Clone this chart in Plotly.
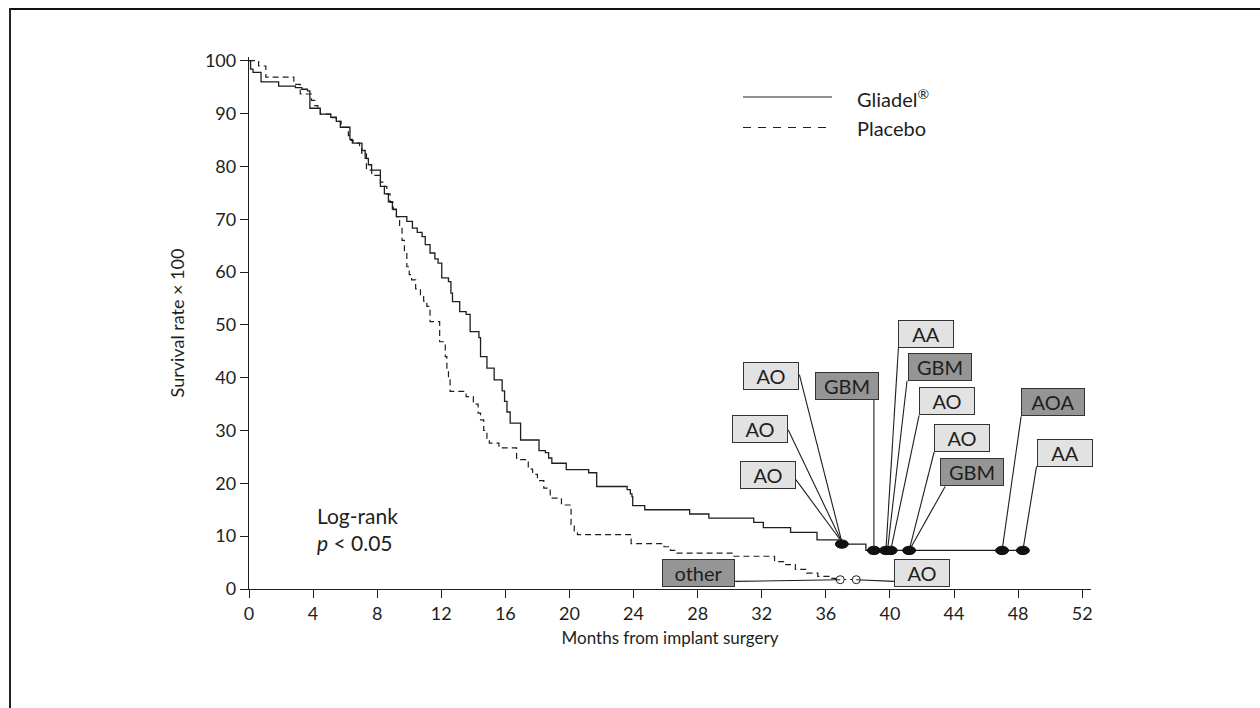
import plotly.graph_objects as go

# ---------------- data ----------------
gliadel_t = [0, 0.1, 0.25, 0.75, 1.85, 2.9, 3.3, 3.65, 3.8, 4.45, 5.1, 5.45, 5.7, 6.3, 6.45,
             7.05, 7.25, 7.45, 7.65, 8.2, 8.45, 8.7, 8.95, 9.2, 9.85, 10.2, 10.5, 10.8, 11.0,
             11.3, 11.6, 11.8, 12.03, 12.45, 12.6, 12.7, 13.15, 13.55, 13.8, 14.35, 14.45,
             14.85, 15.3, 15.8, 15.95, 16.1, 16.3, 16.95, 18.1, 18.5, 18.7, 18.9, 19.8, 21.2,
             21.7, 23.6, 23.8, 23.9, 23.95, 24.7, 27.5, 28.7, 31.5, 32.1, 33.8, 35.45, 36.8,
             38.5, 48.3]
gliadel_s = [100, 98.4, 97.8, 96.0, 95.2, 94.9, 94.6, 94.3, 91.0, 89.9, 89.3, 88.5, 87.4, 85.1, 84.4,
             83.0, 81.5, 80.3, 79.3, 76.2, 74.8, 73.3, 71.9, 70.5, 69.6, 68.3, 67.5, 66.7, 65.2,
             63.6, 62.5, 61.7, 58.9, 58.2, 56.0, 54.4, 52.5, 52.0, 48.7, 47.6, 44.0,
             41.8, 39.6, 37.5, 35.5, 33.5, 31.4, 28.2, 26.2, 25.8, 24.8, 23.8, 22.6, 22.0,
             19.4, 18.8, 18.0, 17.5, 15.8, 15.0, 14.2, 13.4, 12.6, 11.6, 10.7, 9.3, 8.5,
             7.3, 7.3]

placebo_t = [0, 0.6, 1.05, 2.8, 3.2, 3.9, 4.1, 4.3, 4.45, 5.1, 5.45, 5.75, 6.2, 6.35, 6.5, 6.9,
             7.03, 7.33, 7.66, 8.2, 8.4, 8.6, 8.8, 9.0, 9.2, 9.4, 9.55, 9.7, 9.85, 10.0, 10.15,
             10.4, 10.7, 10.9, 11.1, 11.3, 11.9, 12.25, 12.35, 12.45, 12.55, 13.55, 14.0, 14.3,
             14.45, 14.65, 14.85, 15.0, 15.6, 16.7, 17.43, 17.7, 18.0, 18.4, 18.8, 19.5, 20.1,
             20.3, 20.5, 23.85, 25.9, 26.3, 26.7, 30.15, 32.8, 33.5, 34.1, 34.8, 35.5, 36.2,
             36.6, 37.9]
placebo_s = [100, 99.0, 96.9, 95.5, 93.7, 92.5, 91.5, 91.0, 89.9, 89.2, 88.5, 87.4, 85.8, 84.9, 84.4, 83.5,
             82.5, 79.3, 78.3, 77.0, 76.2, 74.8, 73.2, 71.8, 70.5, 68.6, 66.0, 63.5, 61.0, 59.5, 58.5,
             56.8, 55.5, 54.5, 53.5, 50.6, 46.8, 44.0, 41.5, 39.6, 37.4, 36.4, 35.0, 33.3,
             32.0, 30.0, 28.5, 27.6, 26.7, 24.5, 22.7, 21.7, 20.5, 19.1, 17.2, 15.9, 12.2,
             11.0, 10.3, 8.6, 8.0, 7.3, 6.8, 6.2, 5.2, 4.6, 3.7, 3.0, 2.4, 2.0,
             1.8, 1.8]

# censored patients (filled = Gliadel, open = placebo)
gliadel_cens_t = [37.0, 39.0, 39.75, 40.05, 41.2, 47.0, 48.3]
gliadel_cens_s = [8.5, 7.3, 7.3, 7.3, 7.3, 7.3, 7.3]
placebo_cens_t = [36.9, 37.9]
placebo_cens_s = [1.76, 1.76]

# histology labels
label_text = ["AO", "AO", "AO", "GBM", "AA", "GBM", "AO", "AO", "GBM", "AOA", "AA", "other", "AO"]
label_dark = [0, 0, 0, 1, 0, 1, 0, 0, 1, 1, 0, 1, 0]
label_x = [32.58, 31.88, 32.36, 37.33, 42.28, 43.10, 43.57, 44.50, 45.11, 50.19, 50.92, 28.07, 42.00]
label_y = [40.34, 30.30, 21.50, 38.50, 48.30, 42.10, 35.55, 28.60, 22.10, 35.36, 25.80, 3.05, 3.09]
label_w = [56, 56, 56, 64, 56, 64, 56, 56, 64, 64, 56, 73, 56]
anchor_x = [34.35, 33.65, 34.13, 39.00, 40.53, 41.07, 41.82, 42.76, 43.45, 48.19, 49.15, 30.34, 40.26]
anchor_y = [40.56, 30.15, 20.69, 35.83, 45.60, 39.43, 32.86, 25.93, 19.42, 32.67, 23.20, 1.44, 1.44]
target_x = [37.0, 37.0, 37.0, 39.0, 39.75, 39.85, 40.05, 41.2, 41.2, 47.0, 48.3, 36.9, 37.9]
target_y = [8.9, 8.9, 8.9, 7.3, 7.3, 7.3, 7.3, 7.3, 7.3, 7.3, 7.3, 1.76, 1.76]

x_ticks = list(range(0, 53, 4))
y_ticks = list(range(0, 101, 10))

# ---------------- figure ----------------
FONT = "Lato"
INK = "#1e1e1e"
L, R, T, B = 249, 169, 57, 119
W, H = 1260, 708
pw, ph = W - L - R, H - T - B
XMAX, YMAX = 52.55, 100.7

def px_to_paper_x(px):
    return (px - L) / pw

def px_to_paper_y(py):
    return (H - B - py) / ph

fig = go.Figure()

fig.add_trace(go.Scatter(x=gliadel_t, y=gliadel_s, mode="lines", line_shape="hv",
                         line=dict(color=INK, width=1.3), hoverinfo="skip", showlegend=False))
fig.add_trace(go.Scatter(x=placebo_t, y=placebo_s, mode="lines", line_shape="hv",
                         line=dict(color=INK, width=1.2, dash="6px,4px"), hoverinfo="skip",
                         showlegend=False))

shapes = []
# connector lines
for ax, ay, tx, ty in zip(anchor_x, anchor_y, target_x, target_y):
    shapes.append(dict(type="line", xref="x", yref="y", x0=ax, y0=ay, x1=tx, y1=ty,
                       line=dict(color=INK, width=1.1)))
# filled ellipses for censored Gliadel patients
rx, ry = 6.5 / (pw / XMAX), 4.2 / (ph / YMAX)
for t, s in zip(gliadel_cens_t, gliadel_cens_s):
    shapes.append(dict(type="circle", xref="x", yref="y", x0=t - rx, x1=t + rx, y0=s - ry, y1=s + ry,
                       fillcolor="#111111", line=dict(color="#111111", width=1)))

# legend samples
lx0, lx1 = px_to_paper_x(743), px_to_paper_x(832)
shapes.append(dict(type="line", xref="paper", yref="paper", x0=lx0, x1=lx1,
                   y0=px_to_paper_y(97), y1=px_to_paper_y(97), line=dict(color=INK, width=1.2)))
shapes.append(dict(type="line", xref="paper", yref="paper", x0=lx0, x1=lx1,
                   y0=px_to_paper_y(127.5), y1=px_to_paper_y(127.5),
                   line=dict(color=INK, width=1.2, dash="8px,7px")))

# frame (top and left edges of the figure panel)
shapes.append(dict(type="line", xref="paper", yref="paper", x0=px_to_paper_x(9.5), x1=px_to_paper_x(1262),
                   y0=px_to_paper_y(9), y1=px_to_paper_y(9), line=dict(color="#111", width=2)))
shapes.append(dict(type="line", xref="paper", yref="paper", x0=px_to_paper_x(10), x1=px_to_paper_x(10),
                   y0=px_to_paper_y(8), y1=px_to_paper_y(712), line=dict(color="#222", width=2)))

fig.add_trace(go.Scatter(x=placebo_cens_t, y=placebo_cens_s, mode="markers",
                         marker=dict(symbol="circle", size=8, color="white",
                                     line=dict(color=INK, width=1)),
                         hoverinfo="skip", showlegend=False))

annotations = []
for txt, dk, x, y, w in zip(label_text, label_dark, label_x, label_y, label_w):
    annotations.append(dict(x=x, y=y, xref="x", yref="y", text=txt, showarrow=False,
                            xanchor="center", yanchor="middle", width=w - 2, height=26,
                            bgcolor="#959595" if dk else "#e2e2e2", bordercolor="#333",
                            borderwidth=1, borderpad=0,
                            font=dict(family=FONT, size=20, color=INK)))

annotations.append(dict(x=px_to_paper_x(855), y=px_to_paper_y(98), xref="paper", yref="paper",
                        text="Gliadel<sup>®</sup>", showarrow=False, xanchor="left", yanchor="middle",
                        font=dict(family=FONT, size=20, color=INK)))
annotations.append(dict(x=px_to_paper_x(855), y=px_to_paper_y(128), xref="paper", yref="paper",
                        text="Placebo", showarrow=False, xanchor="left", yanchor="middle",
                        font=dict(family=FONT, size=20, color=INK)))
annotations.append(dict(x=px_to_paper_x(315), y=px_to_paper_y(529), xref="paper", yref="paper",
                        text="Log-rank<br><i>p</i> < 0.05", showarrow=False, xanchor="left",
                        yanchor="middle", align="left",
                        font=dict(family=FONT, size=21, color=INK)))

fig.update_layout(
    width=W, height=H, autosize=False,
    margin=dict(l=L, r=R, t=T, b=B, pad=0),
    paper_bgcolor="white", plot_bgcolor="white",
    shapes=shapes, annotations=annotations,
    font=dict(family=FONT, color=INK),
    xaxis=dict(range=[0, XMAX], tickvals=x_ticks, ticks="outside", ticklen=8, tickwidth=1.2,
               tickcolor=INK, showline=True, linecolor=INK, linewidth=1.3, showgrid=False,
               zeroline=False, tickfont=dict(family=FONT, size=18, color=INK),
               title=dict(text="Months from implant surgery", standoff=9,
                          font=dict(family=FONT, size=17, color=INK)),
               automargin=False),
    yaxis=dict(range=[0, YMAX], tickvals=y_ticks, ticks="outside", ticklen=8, tickwidth=1.2,
               tickcolor=INK, showline=True, linecolor=INK, linewidth=1.3, showgrid=False,
               zeroline=False, tickfont=dict(family=FONT, size=18, color=INK),
               title=dict(text="Survival rate × 100", standoff=15,
                          font=dict(family=FONT, size=18, color=INK)),
               automargin=False),
)

fig.write_html("out.html")
